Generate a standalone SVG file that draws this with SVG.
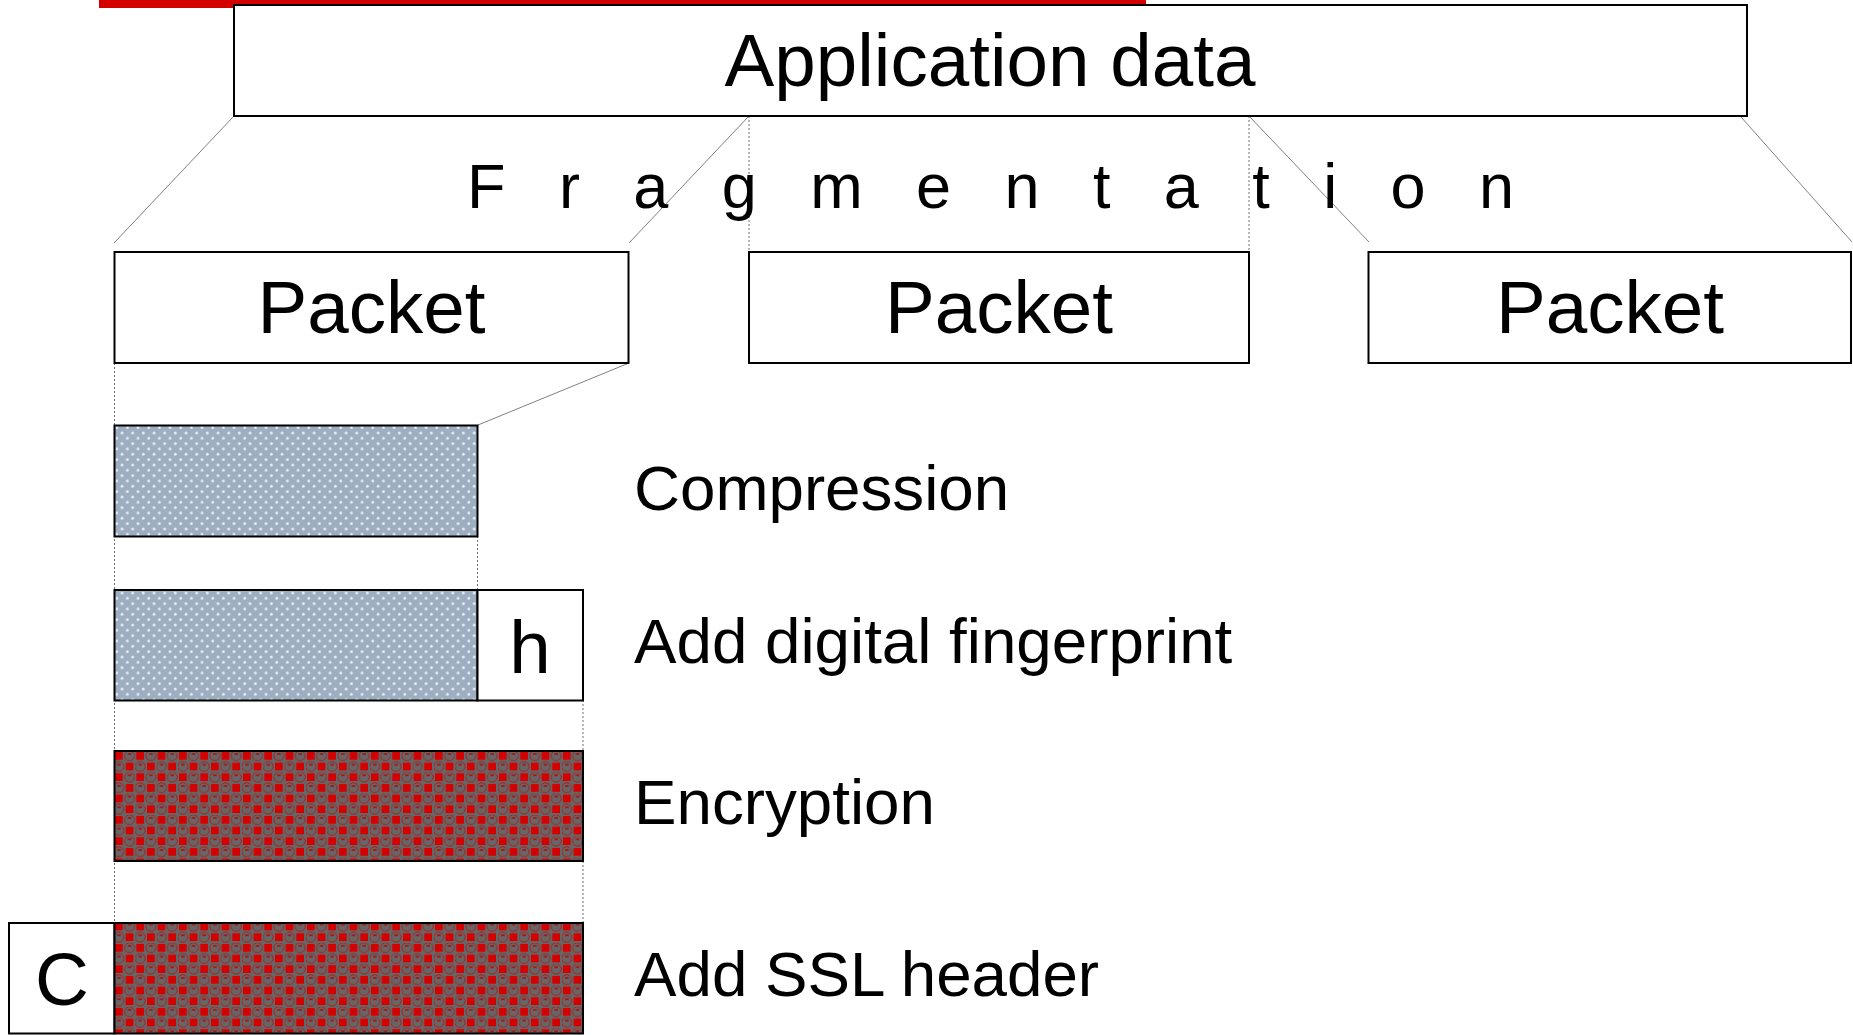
<svg xmlns="http://www.w3.org/2000/svg" width="1853" height="1035" viewBox="0 0 1853 1035">
<style>
.box{fill:#fff;stroke:#000;stroke-width:2}
.t{font-family:"Liberation Sans",Arial,sans-serif;fill:#000}
.big{font-size:74.6px}
.lbl{font-size:63.7px}
.frag{font-size:63px}
.ln{stroke:#808080;stroke-width:1;fill:none}
.dt{stroke:#707070;stroke-width:1;stroke-dasharray:2,2;fill:none}
</style>
<defs>
<pattern id="dots" patternUnits="userSpaceOnUse" x="114" y="425" width="10.67" height="10.67">
<rect width="10.67" height="10.67" fill="#9DAEC0"/>
<circle cx="2.7" cy="2.7" r="1.4" fill="#E8EEF4"/>
<circle cx="8" cy="8" r="1.4" fill="#E8EEF4"/>
</pattern>
<pattern id="checks" patternUnits="userSpaceOnUse" x="114" y="751" width="21.33" height="21.33">
<rect width="21.33" height="21.33" fill="#666666"/>
<rect x="1" y="1" width="7.7" height="7.7" fill="#D40000"/>
<rect x="11.7" y="11.7" width="7.7" height="7.7" fill="#D40000"/>
<circle cx="15.5" cy="4.8" r="5" fill="none" stroke="#B81010" stroke-width="0.8"/>
<circle cx="4.8" cy="15.5" r="5" fill="none" stroke="#B81010" stroke-width="0.8"/>
<rect x="13.8" y="2.2" width="3.6" height="1.5" fill="#C00000"/>
<rect x="3.1" y="12.9" width="3.6" height="1.5" fill="#C00000"/>
</pattern>
</defs>
<rect x="99" y="0" width="1047" height="8" fill="#D40000"/>
<g id="connectors">
<line class="ln" x1="234" y1="116" x2="114" y2="243"/>
<line class="ln" x1="749" y1="116" x2="629" y2="243"/>
<line class="dt" x1="749" y1="116" x2="749" y2="252"/>
<line class="dt" x1="1249" y1="116" x2="1249" y2="252"/>
<line class="ln" x1="1249" y1="116" x2="1369" y2="242"/>
<line class="ln" x1="1741" y1="117" x2="1852" y2="242"/>
<line class="ln" x1="629" y1="363" x2="478" y2="425"/>
<line class="dt" x1="114.5" y1="363" x2="114.5" y2="923"/>
<line class="dt" x1="477.5" y1="536" x2="477.5" y2="590"/>
<line class="dt" x1="583" y1="700" x2="583" y2="751"/>
<line class="dt" x1="583" y1="861" x2="583" y2="923"/>
</g>
<g id="app-data">
<rect class="box" x="234" y="5" width="1513" height="111"/>
<text class="t big" x="990" y="86" text-anchor="middle">Application data</text>
</g>
<g id="fragmentation">
<text class="t frag" x="467" y="208" letter-spacing="53.4">Fragmentation</text>
</g>
<g id="packet1">
<rect class="box" x="114.5" y="252" width="514" height="111"/>
<text class="t big" x="371.5" y="333" text-anchor="middle">Packet</text>
</g>
<g id="packet2">
<rect class="box" x="749" y="252" width="500" height="111"/>
<text class="t big" x="999" y="333" text-anchor="middle">Packet</text>
</g>
<g id="packet3">
<rect class="box" x="1368.5" y="252" width="482.5" height="111"/>
<text class="t big" x="1610" y="333" text-anchor="middle">Packet</text>
</g>
<g id="compression">
<rect x="114.5" y="425.5" width="363" height="111" fill="url(#dots)" stroke="#000" stroke-width="2"/>
<text class="t lbl" x="634" y="510">Compression</text>
</g>
<g id="fingerprint">
<rect x="114.5" y="590" width="363" height="110.5" fill="url(#dots)" stroke="#000" stroke-width="2"/>
<rect class="box" x="477.5" y="590" width="105.5" height="110.5"/>
<text class="t big" x="530" y="673" text-anchor="middle">h</text>
<text class="t lbl" x="634" y="663">Add digital fingerprint</text>
</g>
<g id="encryption">
<rect x="114.5" y="751" width="468.5" height="110" fill="url(#checks)" stroke="#000" stroke-width="2"/>
<text class="t lbl" x="634" y="824">Encryption</text>
</g>
<g id="ssl-header">
<rect class="box" x="9" y="923" width="105.5" height="110.5"/>
<text class="t big" x="62" y="1005" text-anchor="middle">C</text>
<rect x="114.5" y="923" width="468.5" height="110.5" fill="url(#checks)" stroke="#000" stroke-width="2"/>
<text class="t lbl" x="634" y="996">Add SSL header</text>
</g>
</svg>
